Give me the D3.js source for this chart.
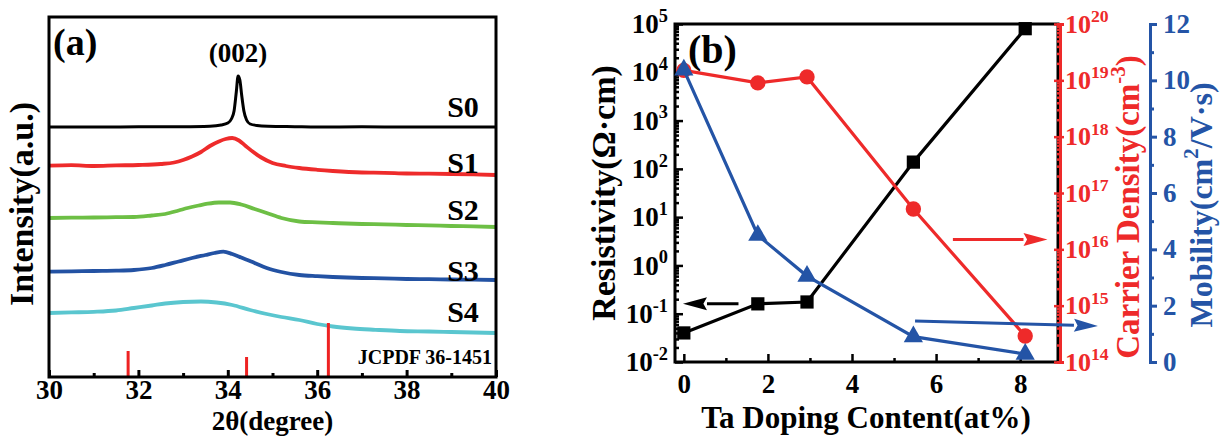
<!DOCTYPE html>
<html>
<head>
<meta charset="utf-8">
<script src="https://cdn.jsdelivr.net/npm/d3@7"></script>
<style>
  body { margin: 0; background: #fff; }
  text { font-family: "Liberation Serif", "Times New Roman", serif; font-weight: bold; }
</style>
</head>
<body>
<svg id="chart" width="1222" height="437" font-family="Liberation Serif" font-weight="bold"></svg>
<script>
// ---------- Panel (a): XRD patterns, [2theta, intensity(a.u.)] ----------
const s0 = [[30,250],[31,250],[32,250.2],[33,250.3],[33.6,250.8],[33.85,252],[34.0,254],[34.08,258],
  [34.14,266],[34.19,285],[34.23,301],[34.27,297],[34.31,282],[34.36,266],[34.42,257],[34.5,253],
  [34.65,251.5],[34.9,250.7],[35.5,250.3],[36,250],[37,250.2],[38,250],[39,250.1],[40,250]];
const s1 = [[30,211.3],[30.5,211.8],[31,211],[31.5,211.6],[32,212],[32.5,213],[32.8,214.5],[33.0,217],
  [33.2,220.5],[33.4,225],[33.6,231],[33.8,235.5],[33.95,238],[34.1,239],[34.25,236.5],[34.4,231],
  [34.57,225],[34.75,219.5],[35.0,214],[35.3,211],[35.6,209],[36.0,207.2],[36.35,206],[37,204.5],
  [37.5,204.2],[38,203.5],[38.5,203.3],[39,203],[39.5,202.6],[40,202]];
const s2 = [[30,159],[30.5,159.4],[31,159.5],[31.5,159.8],[31.9,160],[32.3,161.5],[32.6,163],[32.9,166.5],
  [33.1,169],[33.35,171.5],[33.55,173.3],[33.8,174.5],[34.05,174.5],[34.3,172.5],[34.6,168],[34.87,164],
  [35.2,159],[35.6,155.5],[36,154.6],[36.35,154],[37,153],[37.5,152.6],[38,152],[38.5,151.6],
  [39,151],[39.5,150.6],[40,150]];
const s3 = [[30,105.3],[30.5,105.6],[31,106],[31.5,106.3],[31.9,107],[32.3,109],[32.6,112],[32.9,115.5],
  [33.2,119],[33.5,122],[33.7,124],[33.9,125.3],[34.1,123],[34.3,119.5],[34.6,114],[34.87,109],
  [35.2,105],[35.6,102],[36,100.8],[36.35,100],[37,99],[37.5,98.6],[38,98],[38.5,97.8],[39,97.5],
  [39.5,97.3],[40,97]];
const s4 = [[30,64],[30.5,64.6],[31,65.2],[31.5,66.5],[31.9,69],[32.3,71.5],[32.6,73.5],[33.0,75],
  [33.4,75.5],[33.75,74.5],[34.1,72],[34.5,67],[34.87,63],[35.2,60],[35.6,57],[36,53],[36.35,50.5],
  [36.8,48.5],[37.3,47.2],[37.85,46],[38.5,45.5],[39,45],[39.5,44.5],[40,44]];
const sampleNames = ["S0", "S1", "S2", "S3", "S4"];
const sampleColors = ["#000000", "#ee2b2b", "#6dbf45", "#2352a3", "#5ac6cf"];
const sampleLabelLevel = [260, 204, 157, 96, 55];
const pdfPeaks = [31.77, 34.42, 36.25];
const pdfHeights = [26, 20, 54];
const xrdTicks = [30, 32, 34, 36, 38, 40];

// ---------- Panel (b): electrical properties ----------
const taContent = [0, 1.76, 2.93, 5.46, 8.12];
const resistivity = [0.04, 0.16, 0.175, 138, 8e4];
const carrierDensity = [1.5e19, 9e18, 1.15e19, 5.2e16, 2.9e14];
const mobility = [10.37, 4.5, 3.05, 0.9, 0.28];
const taTicks = [0, 2, 4, 6, 8];
const mobTicks = [0, 2, 4, 6, 8, 10, 12];

const red = "#ee2a2a";
const blue = "#2454a6";

const svg = d3.select("#chart");

// helper: write "10^n" into a text selection
function powLabel(sel, size) {
  sel.each(function (d) {
    const t = d3.select(this).text(null).attr("font-size", size);
    t.append("tspan").text("10");
    t.append("tspan").attr("dy", -size * 0.42).attr("font-size", size * 0.68)
      .text(Math.round(Math.log10(d)));
  });
}
// d3 axes put a sans-serif font on their group; drop it
function plainAxis(a) {
  a.attr("font-family", null).attr("font-size", null);
}

// ======================= Panel (a) =======================
const xA = d3.scaleLinear().domain([30, 40]).range([49, 496]);
const yA = d3.scaleLinear().domain([0, 360]).range([377, 17]);
const gA = svg.append("g");

const lineA = d3.line().x(d => xA(d[0])).y(d => yA(d[1])).curve(d3.curveMonotoneX);
[s0, s1, s2, s3, s4].forEach((s, i) => {
  gA.append("path").datum(s)
    .attr("d", lineA)
    .attr("fill", "none")
    .attr("stroke", sampleColors[i])
    .attr("stroke-width", i === 0 ? 3 : 3.8)
    .attr("stroke-linejoin", "round");
});

// reference sticks
gA.selectAll(".stick").data(pdfPeaks).enter().append("line")
  .attr("x1", d => xA(d)).attr("x2", d => xA(d))
  .attr("y1", yA(0)).attr("y2", (d, i) => yA(pdfHeights[i]))
  .attr("stroke", "#ee2222").attr("stroke-width", 3);

// x axis
const axA = gA.append("g").attr("transform", `translate(0,${yA(0)})`)
  .call(d3.axisBottom(xA).tickValues(xrdTicks).tickSize(-7).tickPadding(3));
const axAminor = gA.append("g").attr("transform", `translate(0,${yA(0)})`)
  .call(d3.axisBottom(xA).tickValues(d3.range(31, 40, 2)).tickSize(-4).tickFormat(""));
[axA, axAminor].forEach(a => {
  plainAxis(a);
  a.select(".domain").remove();
  a.selectAll("line").attr("stroke", "#000").attr("stroke-width", 3);
});
axA.selectAll("text").attr("font-size", 27).attr("fill", "#000");

gA.append("rect")
  .attr("x", xA(30)).attr("y", yA(360))
  .attr("width", xA(40) - xA(30)).attr("height", yA(0) - yA(360))
  .attr("fill", "none").attr("stroke", "#000").attr("stroke-width", 3);

// labels
gA.selectAll(".sname").data(sampleNames).enter().append("text")
  .attr("x", 463).attr("y", (d, i) => yA(sampleLabelLevel[i]))
  .attr("text-anchor", "middle").attr("font-size", 30).text(d => d);
gA.append("text").attr("x", 492).attr("y", 364).attr("text-anchor", "end")
  .attr("font-size", 20).text("JCPDF 36-1451");
gA.append("text").attr("x", 53).attr("y", 55).attr("font-size", 38).text("(a)");
gA.append("text").attr("x", xA(34.23)).attr("y", 62).attr("text-anchor", "middle")
  .attr("font-size", 27).text("(002)");
gA.append("text").attr("x", xA(35)).attr("y", 430).attr("text-anchor", "middle")
  .attr("font-size", 27).text("2θ(degree)");
gA.append("text").attr("transform", "translate(33,204) rotate(-90)")
  .attr("text-anchor", "middle").attr("font-size", 34).text("Intensity(a.u.)");

// ======================= Panel (b) =======================
const xB = d3.scaleLinear().domain([-0.21, 8.9]).range([675, 1058]);
const yRes = d3.scaleLog().domain([1e-2, 1e5]).range([362, 24]);
const yCar = d3.scaleLog().domain([1e14, 1e20]).range([362, 24]);
const yMob = d3.scaleLinear().domain([0, 12]).range([362, 24]);
const gB = svg.append("g");

const decadesRes = d3.range(-2, 6).map(e => Math.pow(10, e));
const decadesCar = d3.range(14, 21).map(e => Math.pow(10, e));
const minorOf = decs => decs.slice(0, -1).flatMap(d => d3.range(2, 10).map(k => k * d));

// bottom axis
const axB = gB.append("g").attr("transform", "translate(0,362)")
  .call(d3.axisBottom(xB).tickValues(taTicks).tickSize(-8).tickPadding(12));
const axBminor = gB.append("g").attr("transform", "translate(0,362)")
  .call(d3.axisBottom(xB).tickValues([1, 3, 5, 7]).tickSize(-4).tickFormat(""));
axB.selectAll("text").attr("font-size", 27).attr("fill", "#000");

// left log axis
const axL = gB.append("g").attr("transform", `translate(${xB.range()[0]},0)`)
  .call(d3.axisLeft(yRes).tickValues(decadesRes).tickSize(-8).tickPadding(7));
const axLminor = gB.append("g").attr("transform", `translate(${xB.range()[0]},0)`)
  .call(d3.axisLeft(yRes).tickValues(minorOf(decadesRes)).tickSize(-4).tickFormat(""));
axL.selectAll("text").attr("fill", "#000").call(powLabel, 27);

[axB, axBminor, axL, axLminor].forEach(a => {
  plainAxis(a);
  a.select(".domain").remove();
  a.selectAll("line").attr("stroke", "#000").attr("stroke-width", 2.5);
});

gB.append("rect")
  .attr("x", 675).attr("y", 24).attr("width", 1058 - 675).attr("height", 362 - 24)
  .attr("fill", "none").attr("stroke", "#000").attr("stroke-width", 3);

// right red log axis (major ticks cross the spine)
const axR = gB.append("g").attr("transform", "translate(1060,0)")
  .call(d3.axisRight(yCar).tickValues(decadesCar).tickSizeInner(-6).tickSizeOuter(0).tickPadding(5));
const axRout = gB.append("g").attr("transform", "translate(1060,0)")
  .call(d3.axisRight(yCar).tickValues(decadesCar).tickSize(4).tickFormat(""));
const axRminor = gB.append("g").attr("transform", "translate(1060,0)")
  .call(d3.axisRight(yCar).tickValues(minorOf(decadesCar)).tickSize(-3).tickFormat(""));
[axR, axRout, axRminor].forEach(a => {
  plainAxis(a);
  a.select(".domain").attr("stroke", red).attr("stroke-width", 3);
  a.selectAll("line").attr("stroke", red).attr("stroke-width", 2.5);
});
axR.selectAll("text").attr("fill", red).call(powLabel, 26);

// far right blue axis
const axM = gB.append("g").attr("transform", "translate(1150,0)")
  .call(d3.axisRight(yMob).tickValues(mobTicks).tickSizeInner(7).tickSizeOuter(0).tickPadding(6));
const axMminor = gB.append("g").attr("transform", "translate(1150,0)")
  .call(d3.axisRight(yMob).tickValues(d3.range(1, 12, 2)).tickSize(4).tickFormat(""));
[axM, axMminor].forEach(a => {
  plainAxis(a);
  a.select(".domain").attr("stroke", blue).attr("stroke-width", 3);
  a.selectAll("line").attr("stroke", blue).attr("stroke-width", 3);
});
axM.selectAll("text").attr("fill", blue).attr("font-size", 27);

// series
const series = [
  { vals: resistivity, y: yRes, color: "#000", sym: d3.symbolSquare, size: 175 },
  { vals: carrierDensity, y: yCar, color: red, sym: d3.symbolCircle, size: 185 },
  { vals: mobility, y: yMob, color: blue, sym: d3.symbolTriangle, size: 160 }
];
series.forEach(s => {
  const pts = taContent.map((x, i) => [xB(x), s.y(s.vals[i])]);
  gB.append("path").datum(pts)
    .attr("d", d3.line())
    .attr("fill", "none").attr("stroke", s.color).attr("stroke-width", 3.2);
  gB.selectAll(null).data(pts).enter().append("path")
    .attr("transform", d => `translate(${d[0]},${d[1]})`)
    .attr("d", d3.symbol().type(s.sym).size(s.size))
    .attr("fill", s.color);
});

// arrows
function arrow(x1, y1, x2, y2, color) {
  const ang = Math.atan2(y2 - y1, x2 - x1);
  const len = 24, half = 6.5;
  const bx = x2 - len * Math.cos(ang), by = y2 - len * Math.sin(ang);
  gB.append("line").attr("x1", x1).attr("y1", y1).attr("x2", bx).attr("y2", by)
    .attr("stroke", color).attr("stroke-width", 3);
  const px = -Math.sin(ang) * half, py = Math.cos(ang) * half;
  gB.append("path")
    .attr("d", `M${x2},${y2}L${bx + px},${by + py}L${bx + len * 0.15 * Math.cos(ang)},${by + len * 0.15 * Math.sin(ang)}L${bx - px},${by - py}Z`)
    .attr("fill", color);
}
arrow(xB(1.3), yRes(0.16), xB(-0.02), yRes(0.16), "#000");
arrow(xB(6.4), yCar(1.5e16), xB(8.65), yCar(1.5e16), red);
arrow(xB(5.5), yMob(1.46), xB(9.85), yMob(1.28), blue);

// labels
gB.append("text").attr("x", 688).attr("y", 63).attr("font-size", 40).text("(b)");
gB.append("text").attr("x", 866).attr("y", 428).attr("text-anchor", "middle")
  .attr("font-size", 31).text("Ta Doping Content(at%)");
gB.append("text").attr("transform", "translate(615,193) rotate(-90)")
  .attr("text-anchor", "middle").attr("font-size", 34).text("Resistivity(Ω·cm)");

const tCar = gB.append("text").attr("transform", "translate(1139,207) rotate(-90)")
  .attr("text-anchor", "middle").attr("font-size", 33).attr("fill", red);
tCar.append("tspan").text("Carrier Density(cm");
tCar.append("tspan").attr("dy", -14).attr("font-size", 21).text("-3");
tCar.append("tspan").attr("dy", 14).text(")");

const tMob = gB.append("text").attr("transform", "translate(1212,205) rotate(-90)")
  .attr("text-anchor", "middle").attr("font-size", 32).attr("fill", blue);
tMob.append("tspan").text("Mobility(cm");
tMob.append("tspan").attr("dy", -14).attr("font-size", 21).text("2");
tMob.append("tspan").attr("dy", 14).text("/V·s)");
</script>
</body>
</html>
